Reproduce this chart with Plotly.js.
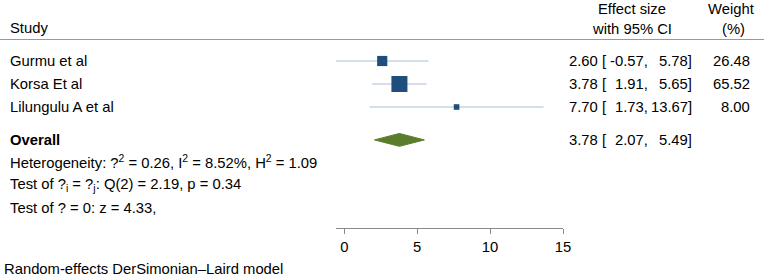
<!DOCTYPE html>
<html><head><meta charset="utf-8">
<script src="https://cdn.plot.ly/plotly-3.0.1.min.js"></script>
<style>html,body{margin:0;padding:0;background:#fff}#chart{width:764px;height:277px}</style>
</head><body><div id="chart"></div>
<script>
// Data
const studies = ["Gurmu et al", "Korsa Et al", "Lilungulu A et al"];
const estimates = [2.60, 3.78, 7.70];
const lowerCI = [-0.57, 1.91, 1.73];
const upperCI = [5.78, 5.65, 13.67];
const weights = [26.48, 65.52, 8.00];
const overallLabel = "Overall";
const overall = [3.78, 2.07, 5.49]; // estimate, lower, upper
const xTicks = [0, 5, 10, 15];
const hetText = "Heterogeneity: ?<sup>2</sup> = 0.26, I<sup>2</sup> = 8.52%, H<sup>2</sup> = 1.09";
const testText1 = "Test of ?<sub>i</sub> = ?<sub>j</sub>: Q(2) = 2.19, p = 0.34";
const testText2 = "Test of ? = 0: z = 4.33,";
const noteText = "Random-effects DerSimonian\u2013Laird model";

// Row positions (layout)
const rows = studies.map((s, i) => i + 1);
const overallRow = 4.43;
const textRows = [5.39, 6.39, 7.39];

const W = 764, H = 277;
const font = {family: "Liberation Sans, Arial, sans-serif", size: 14.8, color: "#000"};
const fmt = v => v.toFixed(2);

const traces = [];
// CI lines
studies.forEach((s, i) => {
  traces.push({x: [lowerCI[i], upperCI[i]], y: [rows[i], rows[i]], mode: "lines",
    line: {color: "#a9bfd8", width: 1}, hoverinfo: "skip", showlegend: false, cliponaxis: false});
});
// squares
traces.push({x: estimates, y: rows, mode: "markers", showlegend: false,
  marker: {symbol: "square", color: "#1f4e7d", opacity: 1, size: weights.map(w => 1.98 * Math.sqrt(w)), line: {width: 0}}});
// diamond
const dh = 0.28;
traces.push({x: [overall[1], overall[0], overall[2], overall[0], overall[1]],
  y: [overallRow, overallRow - dh, overallRow, overallRow + dh, overallRow],
  mode: "lines", fill: "toself", fillcolor: "#5a7d2c", line: {color: "#5a7d2c", width: 1}, showlegend: false});

const px = p => p / W;
const ann = [];
function addText(text, xp, row, anchor) {
  ann.push({text: text, x: px(xp), xref: "paper", y: row, yref: "y",
    xanchor: anchor, yanchor: "middle", showarrow: false, font: font});
}
function addHead(text, xp, yp, anchor) {
  ann.push({text: text, x: px(xp), xref: "paper", y: 1 - yp / H, yref: "paper",
    xanchor: anchor, yanchor: "middle", showarrow: false, font: font});
}
// column edges (layout)
const colEst = 567, colLo = 650, colHi = 694, colW = 752;
// headers
addHead("Study", 8, 28, "left");
addHead("Effect size", 632, 9, "center");
addHead("with 95% CI", 632, 29, "center");
addHead("Weight", 731, 9, "center");
addHead("(%)", 733, 29, "center");

function effectRow(est, lo, hi, row) {
  addText(fmt(est) + " [", colEst, row, "left");
  addText(fmt(lo) + ",", colLo, row, "right");
  addText(fmt(hi) + "]", colHi, row, "right");
}
studies.forEach((s, i) => {
  addText(s, 8, rows[i], "left");
  effectRow(estimates[i], lowerCI[i], upperCI[i], rows[i]);
  addText(fmt(weights[i]), colW, rows[i], "right");
});
addText("<b>" + overallLabel + "</b>", 8, overallRow, "left");
effectRow(overall[0], overall[1], overall[2], overallRow);
addText(hetText, 8, textRows[0], "left");
addText(testText1, 8, textRows[1], "left");
addText(testText2, 8, textRows[2], "left");
addHead(noteText, 2, 269, "left");

const layout = {
  width: W, height: H, margin: {l: 0, r: 0, t: 0, b: 0},
  paper_bgcolor: "#fff", plot_bgcolor: "rgba(0,0,0,0)", showlegend: false,
  font: font,
  xaxis: {domain: [336 / W, 563 / W], range: [lowerCI[0], xTicks[xTicks.length - 1]],
    tickvals: xTicks, ticktext: xTicks.map(String), ticks: "outside", ticklen: 5, tickcolor: "#888",
    showline: true, linecolor: "#888", linewidth: 1, showgrid: false, zeroline: false,
    tickfont: font, fixedrange: true},
  yaxis: {domain: [(H - 228) / H, 1], range: [8.26, -1.652], visible: false, fixedrange: true},
  shapes: [{type: "line", xref: "paper", yref: "paper", x0: 0, x1: 1, y0: 1 - 39.5 / H, y1: 1 - 39.5 / H,
    line: {color: "#999", width: 1}}],
  annotations: ann
};
Plotly.newPlot("chart", traces, layout, {staticPlot: true, displayModeBar: false});
</script></body></html>
